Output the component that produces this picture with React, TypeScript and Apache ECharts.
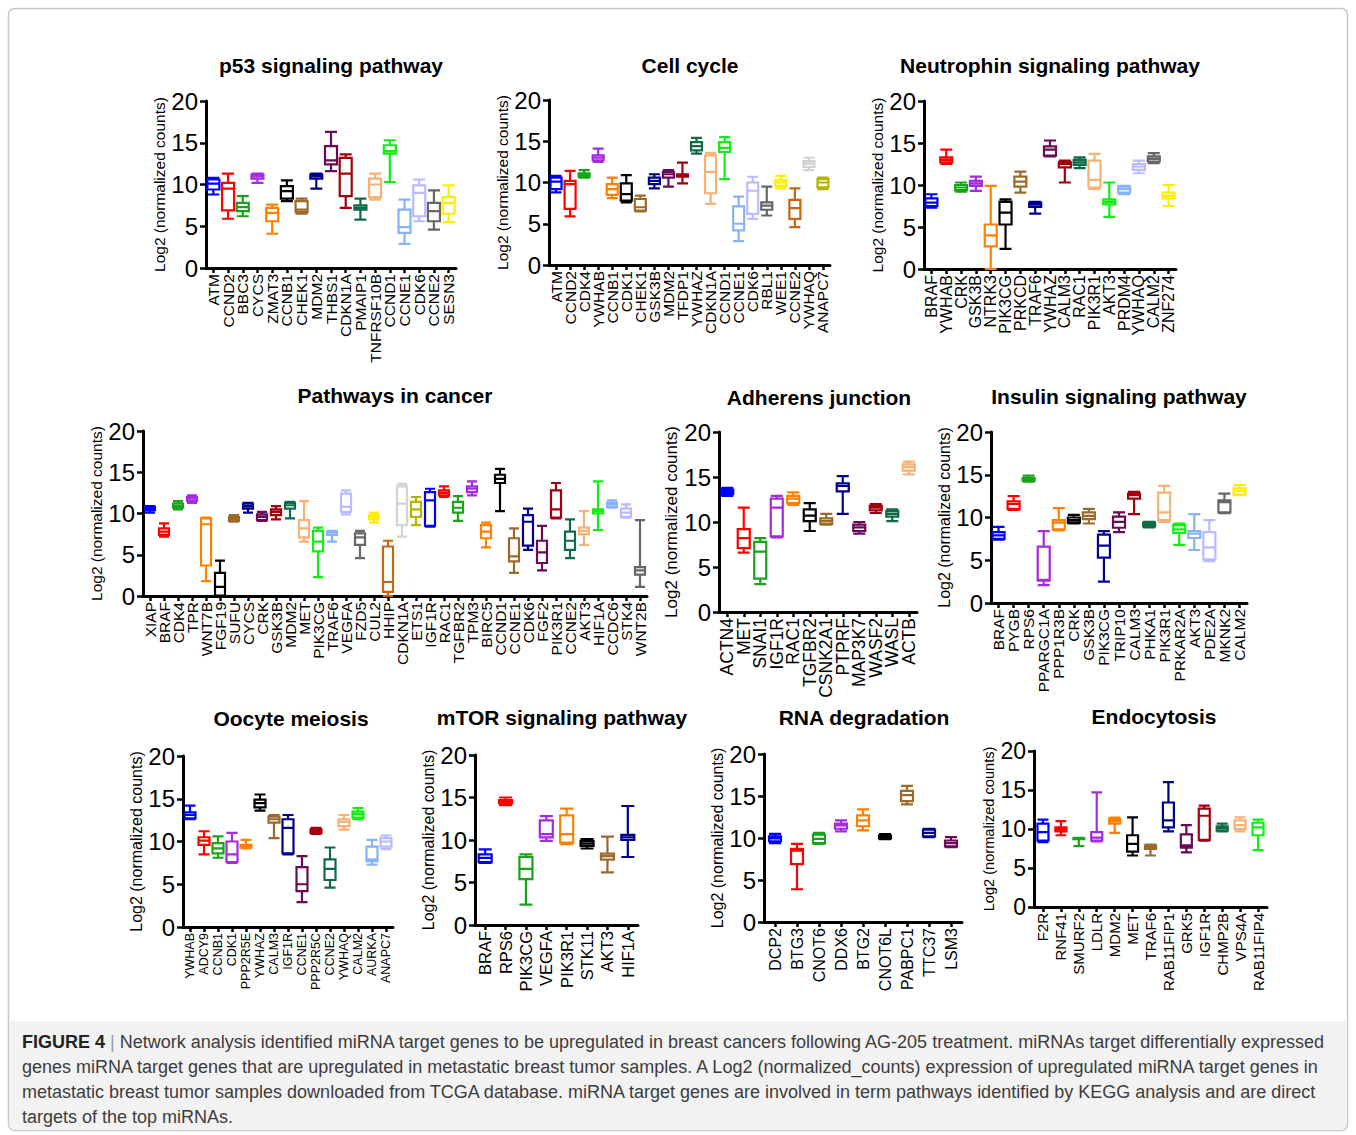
import React, { useEffect, useRef } from "react";
import * as echarts from "echarts";

const FONT = '"Liberation Sans", Arial, Helvetica, sans-serif';

const PALETTE = [
  "#0000ff", "#ff0000", "#19a319", "#a52ae0", "#ff8000",
  "#000000", "#9a6a2a", "#00008b", "#680a55", "#a3000f",
  "#0f6b45", "#f7b173", "#11ee11", "#86b2f7", "#babaff",
  "#666666", "#ffee00", "#c8640f", "#d2d2d2", "#b4b400",
];

const Y_TICKS = [0, 5, 10, 15, 20];
const Y_NAME = "Log2 (normalized counts)";

// [min, Q1, median, Q3, max]
const p53Genes = ["ATM","CCND2","BBC3","CYCS","ZMAT3","CCNB1","CHEK1","MDM2","THBS1","CDKN1A","PMAIP1","TNFRSF10B","CCND1","CCNE1","CDK6","CCNE2","SESN3"];
const p53Values = [
  [8.8,9.4,10.1,10.6,10.8],[5.9,6.9,9.5,10.2,11.3],[6.2,6.8,7.3,7.8,8.6],[10.2,10.7,11.0,11.2,11.3],
  [4.1,5.6,6.6,7.2,7.6],[8.0,8.3,9.2,9.8,10.5],[6.5,6.7,7.0,8.0,8.3],[9.5,10.7,11.0,11.2,11.3],
  [11.6,12.4,12.9,14.6,16.3],[7.2,8.6,11.3,13.2,13.6],[5.8,7.0,7.2,7.5,8.3],[8.2,8.5,10.0,10.7,11.3],
  [10.3,13.7,14.0,14.7,15.3],[2.9,4.2,4.9,7.0,8.2],[5.6,6.2,9.0,9.9,10.6],[4.6,5.6,6.8,7.8,9.3],
  [5.5,6.5,7.8,8.5,9.9],
];

const cellGenes = ["ATM","CCND2","CDK4","YWHAB","CCNB1","CDK1","CHEK1","GSK3B","MDM2","TFDP1","YWHAZ","CDKN1A","CCND1","CCNE1","CDK6","RBL1","WEE1","CCNE2","YWHAQ","ANAPC7"];
const cellValues = [
  [8.8,9.2,10.1,10.6,10.8],[5.9,6.8,9.8,10.2,11.4],[10.6,10.7,10.9,11.1,11.5],[12.5,12.7,13.0,13.3,14.1],
  [8.1,8.5,9.2,9.8,10.6],[7.6,7.8,8.6,9.9,10.9],[6.5,6.6,7.0,8.0,8.4],[9.3,9.8,10.2,10.6,11.0],
  [9.5,10.6,11.0,11.3,11.5],[9.9,10.7,10.9,11.0,12.4],[13.5,13.9,14.4,14.9,15.4],[7.4,8.7,11.3,13.3,13.6],
  [10.4,13.7,14.2,14.9,15.5],[2.9,4.2,5.0,7.1,8.3],[5.6,6.2,9.0,10.0,10.7],[6.0,6.7,7.2,7.6,9.5],
  [9.3,9.6,10.0,10.3,10.8],[4.6,5.6,6.9,7.9,9.3],[11.5,11.9,12.3,12.6,13.0],[9.2,9.4,10.0,10.4,10.6],
];

const neutroGenes = ["BRAF","YWHAB","CRK","GSK3B","NTRK3","PIK3CG","PRKCD","TRAF6","YWHAZ","CALM3","RAC1","PIK3R1","AKT3","PRDM4","YWHAQ","CALM2","ZNF274"];
const neutroValues = [
  [7.3,7.5,7.9,8.4,8.9],[12.5,12.7,13.0,13.3,14.2],[9.2,9.4,9.7,10.0,10.3],[9.3,9.9,10.2,10.5,11.0],
  [0,2.7,4.0,5.3,9.9],[2.4,5.3,6.7,8.0,8.3],[9.1,9.8,10.4,11.0,11.6],[6.6,7.4,7.7,7.9,8.0],
  [13.4,13.5,14.2,14.6,15.3],[10.3,12.1,12.5,12.7,12.9],[12.0,12.4,12.7,13.0,13.3],[9.5,9.7,10.6,12.9,13.7],
  [6.2,7.7,8.0,8.3,10.3],[8.9,9.1,9.5,9.8,9.9],[11.4,11.8,12.2,12.5,12.9],[12.6,12.8,13.1,13.4,13.8],
  [7.5,8.4,8.7,9.1,10.0],
];

const cancerGenes = ["XIAP","BRAF","CDK4","TPR","WNT7B","FGF19","SUFU","CYCS","CRK","GSK3B","MDM2","MET","PIK3CG","TRAF6","VEGFA","FZD5","CUL2","HHIP","CDKN1A","ETS1","IGF1R","RAC1","TGFBR2","TPM3","BIRC5","CCND1","CCNE1","CDK6","FGF2","PIK3R1","CCNE2","AKT3","HIF1A","CCDC6","STK4","WNT2B"];
const cancerValues = [
  [10.1,10.4,10.6,10.8,10.9],[7.2,7.4,7.8,8.2,8.8],[10.5,10.7,10.9,11.2,11.5],[11.3,11.5,11.8,12.0,12.2],
  [1.8,3.7,8.7,9.4,9.5],[0,0.05,1.1,2.8,4.3],[9.0,9.1,9.35,9.6,9.8],[10.1,10.6,10.9,11.2,11.3],
  [9.1,9.2,9.6,9.9,10.2],[9.3,9.8,10.2,10.5,10.9],[9.4,10.6,11.0,11.3,11.4],[6.6,7.1,8.2,9.2,11.5],
  [2.3,5.4,6.6,7.9,8.3],[6.6,7.4,7.7,7.8,7.9],[9.9,10.2,10.8,12.4,12.8],[4.6,6.2,7.1,7.6,7.9],
  [8.9,9.3,9.6,9.8,10.1],[0,0.5,1.7,6.0,6.7],[7.2,8.6,11.2,13.3,13.6],[8.6,9.6,10.5,11.4,12.0],
  [8.4,8.5,11.6,12.6,13.0],[12.0,12.2,12.5,12.8,13.3],[9.1,10.1,10.7,11.4,12.1],[12.2,12.6,13.0,13.3,13.9],
  [5.9,7.0,7.8,8.6,8.9],[10.3,13.7,14.2,14.7,15.4],[2.8,4.2,4.8,7.0,8.2],[5.6,6.1,9.0,9.8,10.6],
  [3.1,4.0,5.3,6.7,8.5],[9.4,9.5,10.5,12.8,13.7],[4.6,5.6,6.7,7.8,9.3],[6.2,7.5,7.9,8.3,10.3],
  [8.0,10.0,10.3,10.5,13.9],[10.7,10.8,11.1,11.3,11.6],[9.5,9.6,10.1,10.6,11.1],[1.1,2.6,3.1,3.5,9.2],
];

const adherensGenes = ["ACTN4","MET","SNAI1","IGF1R","RAC1","TGFBR2","CSNK2A1","PTPRF","MAP3K7","WASF2","WASL","ACTB"];
const adherensValues = [
  [12.9,13.1,13.35,13.6,13.8],[6.6,7.1,8.2,9.2,11.6],[3.1,3.7,6.7,7.8,8.2],[8.3,8.4,11.6,12.6,12.9],
  [11.9,12.1,12.6,12.9,13.3],[9.0,10.1,10.7,11.4,12.1],[9.7,9.8,10.1,10.4,10.9],[10.9,13.4,14.0,14.3,15.1],
  [8.7,9.0,9.4,9.7,10.0],[11.0,11.3,11.6,11.8,12.0],[10.1,10.6,10.9,11.2,11.4],[15.3,15.7,16.1,16.4,16.7],
];

const insulinGenes = ["BRAF","PYGB","RPS6","PPARGC1A","PPP1R3B","CRK","GSK3B","PIK3CG","TRIP10","CALM3","PHKA1","PIK3R1","PRKAR2A","AKT3","PDE2A","MKNK2","CALM2"];
const insulinValues = [
  [7.4,7.5,7.9,8.3,8.9],[10.9,11.0,11.6,11.9,12.5],[14.2,14.3,14.45,14.6,14.9],[2.1,2.6,2.7,6.6,8.4],
  [8.5,8.6,9.4,9.7,11.1],[9.3,9.4,9.7,10.0,10.3],[9.3,9.8,10.2,10.6,11.0],[2.5,5.3,6.7,8.0,8.4],
  [8.3,8.8,9.5,10.1,10.6],[10.4,12.2,12.6,12.8,13.0],[8.85,8.95,9.2,9.4,9.5],[9.5,9.7,10.6,12.9,13.7],
  [6.8,8.2,8.6,9.1,9.3],[6.2,7.6,8.1,8.4,10.4],[4.9,5.1,6.5,8.3,9.7],[10.5,10.6,11.8,12.0,12.8],
  [12.6,12.7,13.1,13.4,13.8],
];

const oocyteGenes = ["YWHAB","ADCY9","CCNB1","CDK1","PPP2R5E","YWHAZ","CALM3","IGF1R","CCNE1","PPP2R5C","CCNE2","YWHAQ","CALM2","AURKA","ANAPC7"];
const oocyteValues = [
  [12.6,12.7,13.1,13.4,14.2],[8.5,9.6,10.1,10.5,11.2],[8.1,8.6,9.2,9.8,10.6],[7.5,7.6,8.5,10.0,11.0],
  [9.2,9.3,9.45,9.6,10.2],[13.6,14.0,14.5,14.9,15.5],[10.4,12.2,12.6,12.9,13.1],[8.5,8.6,11.6,12.6,13.1],
  [2.9,4.2,5.0,7.0,8.3],[10.9,11.0,11.2,11.4,11.6],[4.6,5.5,6.8,7.9,9.3],[11.4,11.8,12.3,12.6,13.1],
  [12.6,12.8,13.2,13.5,13.9],[7.3,7.7,7.9,9.4,10.2],[9.1,9.4,10.0,10.4,10.7],
];

const mtorGenes = ["BRAF","RPS6","PIK3CG","VEGFA","PIK3R1","STK11","AKT3","HIF1A"];
const mtorValues = [
  [7.3,7.4,7.9,8.3,8.9],[14.1,14.3,14.5,14.7,15.0],[2.4,5.4,6.6,8.0,8.3],[9.9,10.3,10.7,12.3,12.8],
  [9.5,9.7,10.7,12.9,13.7],[9.0,9.3,9.6,9.9,10.1],[6.2,7.7,8.1,8.4,10.4],[8.0,10.0,10.3,10.6,14.0],
];

const rnaGenes = ["DCP2","BTG3","CNOT6","DDX6","BTG2","CNOT6L","PABPC1","TTC37","LSM3"];
const rnaValues = [
  [9.4,9.6,9.95,10.2,10.5],[3.9,6.9,8.5,8.7,9.3],[9.3,9.4,9.9,10.4,10.6],[10.8,11.1,11.5,11.7,12.1],
  [10.9,11.4,12.1,12.7,13.4],[9.85,9.95,10.15,10.3,10.45],[14.0,14.4,15.1,15.6,16.2],[10.1,10.2,10.6,11.0,11.1],
  [8.9,9.0,9.4,9.7,10.1],
];

const endoGenes = ["F2R","RNF41","SMURF2","LDLR","MDM2","MET","TRAF6","RAB11FIP1","GRK5","IGF1R","CHMP2B","VPS4A","RAB11FIP4"];
const endoValues = [
  [8.3,8.5,9.6,10.7,11.2],[9.2,9.7,9.95,10.2,11.0],[7.8,8.7,8.75,8.8,8.85],[8.4,8.5,8.9,9.6,14.7],
  [9.5,10.7,11.0,11.3,11.45],[6.6,7.1,8.1,9.2,11.5],[6.6,7.45,7.7,7.9,8.0],[9.7,10.2,11.1,13.4,16.0],
  [7.0,7.6,7.9,9.3,10.5],[8.5,8.6,11.7,12.6,13.0],[9.7,9.8,10.1,10.35,10.7],[9.7,10.0,10.5,11.1,11.5],
  [7.3,9.2,10.2,10.8,11.2],
];

const CAPTION_LINES = [
  "Network analysis identified miRNA target genes to be upregulated in breast cancers following AG-205 treatment. miRNAs target differentially expressed",
  "genes miRNA target genes that are upregulated in metastatic breast tumor samples. A Log2 (normalized_counts) expression of upregulated miRNA target genes in",
  "metastatic breast tumor samples downloaded from TCGA database. miRNA target genes are involved in term pathways identified by KEGG analysis and are direct",
  "targets of the top miRNAs.",
];

// layout (pixels)
const PANELS = [
  { title: "p53 signaling pathway", genes: p53Genes, values: p53Values, left: 206, top: 101, width: 250, height: 167, tx: 331, ty: 65, ls: 15.5, bw: 12, ns: 15.5, ts: 24 },
  { title: "Cell cycle", genes: cellGenes, values: cellValues, left: 549, top: 100, width: 281, height: 165, tx: 690, ty: 65, ls: 15.5, bw: 11, ns: 15.5, ts: 24 },
  { title: "Neutrophin signaling pathway", genes: neutroGenes, values: neutroValues, left: 924, top: 101, width: 252, height: 168, tx: 1050, ty: 65, ls: 16, bw: 12, ns: 15.5, ts: 24 },
  { title: "Pathways in cancer", genes: cancerGenes, values: cancerValues, left: 143, top: 431, width: 504, height: 165, tx: 395, ty: 395, ls: 15.5, bw: 10, ns: 15.5, ts: 24 },
  { title: "Adherens junction", genes: adherensGenes, values: adherensValues, left: 719, top: 432, width: 198, height: 180, tx: 819, ty: 397, ls: 17.5, bw: 12, ns: 17, ts: 24 },
  { title: "Insulin signaling pathway", genes: insulinGenes, values: insulinValues, left: 991, top: 432, width: 256, height: 171, tx: 1119, ty: 396, ls: 15.5, bw: 12, ns: 16, ts: 24 },
  { title: "Oocyte meiosis", genes: oocyteGenes, values: oocyteValues, left: 183, top: 756, width: 210, height: 171, tx: 291, ty: 718, ls: 12.5, bw: 11, ns: 16, ts: 24 },
  { title: "mTOR signaling pathway", genes: mtorGenes, values: mtorValues, left: 475, top: 755, width: 163, height: 170, tx: 562, ty: 717, ls: 16.5, bw: 13, ns: 16, ts: 24 },
  { title: "RNA degradation", genes: rnaGenes, values: rnaValues, left: 764, top: 754, width: 198, height: 168, tx: 864, ty: 717, ls: 16, bw: 12, ns: 16, ts: 24 },
  { title: "Endocytosis", genes: endoGenes, values: endoValues, left: 1034, top: 751, width: 233, height: 156, tx: 1154, ty: 716, ls: 15, bw: 11, ns: 14.6, ts: 23 },
];

function buildOption() {
  const grid: any[] = [];
  const xAxis: any[] = [];
  const yAxis: any[] = [];
  const series: any[] = [];
  const graphic: any[] = [];

  graphic.push({
    type: "rect", silent: true, z: -10,
    shape: { x: 8.5, y: 8.5, width: 1339, height: 1122, r: 6 },
    style: { fill: "#ffffff", stroke: "#c8c8c8", lineWidth: 1.5 },
  });
  graphic.push({
    type: "rect", silent: true, z: -9,
    shape: { x: 9.5, y: 1021, width: 1337, height: 108.5, r: [0, 0, 5, 5] },
    style: { fill: "#f2f2f2" },
  });

  PANELS.forEach((p, i) => {
    grid.push({ left: p.left, top: p.top, width: p.width, height: p.height });
    xAxis.push({
      type: "category", gridIndex: i, data: p.genes, boundaryGap: true,
      axisLine: { show: true, lineStyle: { color: "#000", width: 3 } },
      axisTick: { show: true, alignWithLabel: true, interval: 0, length: 5, lineStyle: { color: "#000", width: 2.5 } },
      axisLabel: { rotate: 90, interval: 0, fontSize: p.ls, color: "#000", fontFamily: FONT, margin: 6 },
      splitLine: { show: false },
    });
    yAxis.push({
      type: "value", gridIndex: i, min: Y_TICKS[0], max: Y_TICKS[Y_TICKS.length - 1], interval: Y_TICKS[1] - Y_TICKS[0],
      name: Y_NAME, nameLocation: "middle", nameGap: 36, nameRotate: 90,
      nameTextStyle: { fontSize: p.ns, color: "#000", fontFamily: FONT },
      axisLine: { show: true, lineStyle: { color: "#000", width: 3 } },
      axisTick: { show: true, length: 6, lineStyle: { color: "#000", width: 2.5 } },
      axisLabel: { fontSize: p.ts, color: "#000", fontFamily: FONT, margin: 8 },
      splitLine: { show: false },
    });
    series.push({
      type: "boxplot", xAxisIndex: i, yAxisIndex: i, silent: true,
      boxWidth: [p.bw, p.bw],
      emphasis: { disabled: true },
      data: p.values.map((v, j) => ({
        value: v,
        itemStyle: { color: "rgba(255,255,255,0)", borderColor: PALETTE[j % PALETTE.length], borderWidth: 2.2 },
      })),
    });
    graphic.push({
      type: "text", x: p.tx, y: p.ty, silent: true,
      style: {
        text: p.title, fill: "#000", font: `bold 21px ${FONT}`,
        align: "center", verticalAlign: "middle", textAlign: "center", textVerticalAlign: "middle",
      },
    });
  });

  CAPTION_LINES.forEach((line, k) => {
    graphic.push({
      type: "text", x: 22, y: 1042 + k * 25, silent: true,
      style: {
        text: k === 0 ? `{b|FIGURE 4} {s||} ${line}` : line,
        fill: "#3c3c3c", font: `18px ${FONT}`,
        align: "left", verticalAlign: "middle", textAlign: "left", textVerticalAlign: "middle",
        rich: {
          b: { fontWeight: "bold", fontSize: 18, fontFamily: FONT, fill: "#222", color: "#222" },
          s: { fontSize: 18, fontFamily: FONT, fill: "#999", color: "#999" },
        },
      },
    });
  });

  return {
    animation: false,
    backgroundColor: "#ffffff",
    textStyle: { fontFamily: FONT },
    grid, xAxis, yAxis, series, graphic,
  };
}

export default function App() {
  const ref = useRef<HTMLDivElement>(null);
  useEffect(() => {
    if (!ref.current) return;
    const chart = echarts.init(ref.current, null, { renderer: "svg" });
    chart.setOption(buildOption());
    return () => chart.dispose();
  }, []);
  return (
    <div
      ref={ref}
      style={{ position: "absolute", left: 0, top: 0, width: 1356, height: 1135, background: "#fff" }}
    />
  );
}
